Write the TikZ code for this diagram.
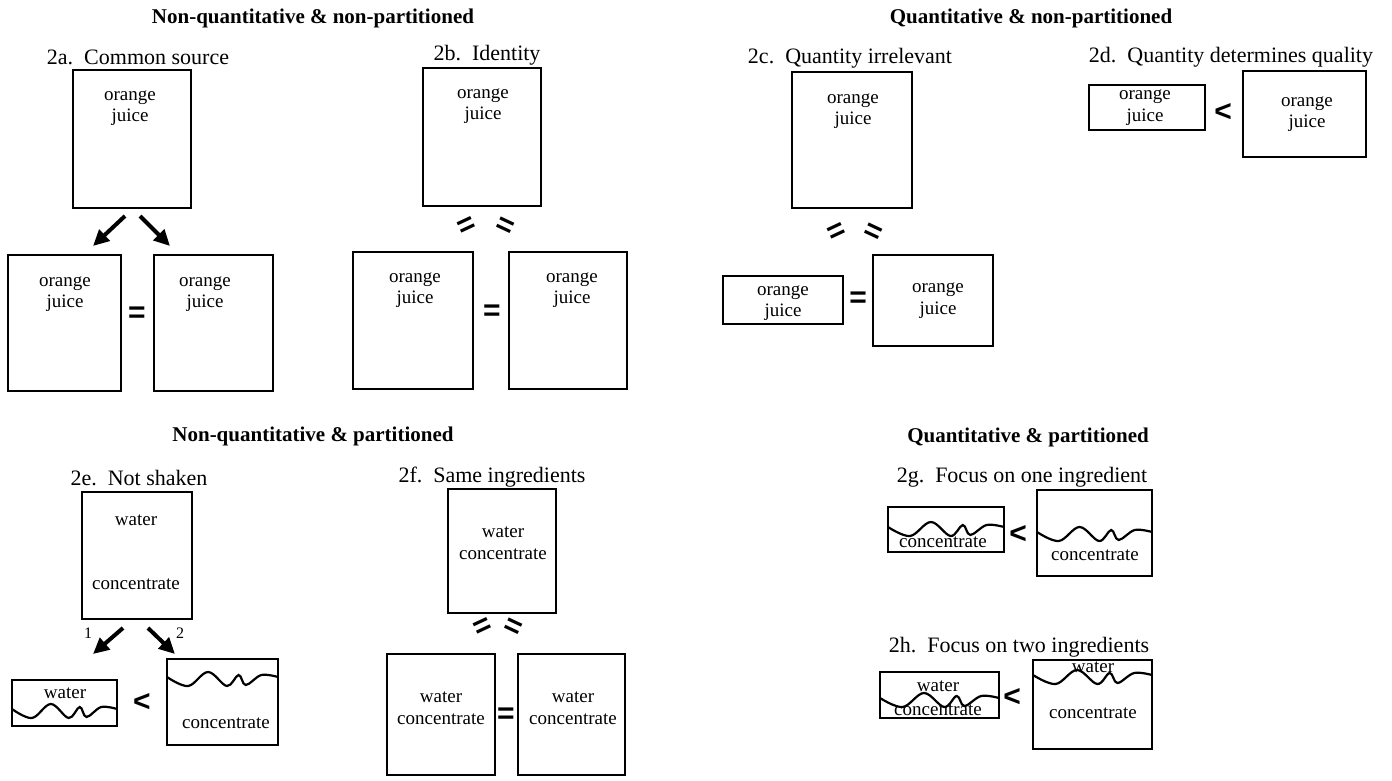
\documentclass[tikz,border=0pt]{standalone}
\usepackage{fontspec}
\setmainfont{Liberation Serif}
\setsansfont{Liberation Sans}
\usetikzlibrary{arrows.meta}

\tikzset{
  glass/.style 2 args={draw, line width=1pt, inner sep=0pt, minimum width=#1*0.5pt, minimum height=#2*0.5pt},
  liquid/.style={align=center, inner sep=0pt, font=\fontsize{9.5}{10.8}\selectfont},
  heading/.style={font=\bfseries\fontsize{10.5}{12}\selectfont},
  caption/.style={font=\fontsize{11}{13}\selectfont},
  relation/.style={inner sep=0pt, font=\sffamily\bfseries\fontsize{15}{15}\selectfont},
  pour/.style={line width=2pt, -{Triangle[length=8pt,width=7.5pt]}},
  waveline/.style={line width=1.1pt},
  num/.style={inner sep=0pt, font=\fontsize{8}{9}\selectfont}
}
% boundary between the two layers: left x, y at the left wall, width
\newcommand{\wavyline}[3]{\draw[waveline, shift={(#1,#2)}, xscale=#3] plot[smooth, tension=.6]
  coordinates {(0,0) (0.19,9) (0.37,-5) (0.54,9) (0.645,-2) (0.71,8) (0.85,-2) (1,0)};}

\begin{document}
\begin{tikzpicture}[x=0.5pt, y=-0.5pt]
    \useasboundingbox (0,0) rectangle (1392,781);
    \node[heading] (top1) at (313,18) {Non-quantitative \& non-partitioned};
    \node[heading] (top2) at (1031,18) {Quantitative \& non-partitioned};
    \node[heading] (top3) at (313,436) {Non-quantitative \& partitioned};
    \node[heading] (top4) at (1028,437) {Quantitative \& partitioned};

    % 2a
    \node[caption] (capa) at (138,57) {2a.\enspace Common source};
    \node[glass={118}{138}] (a0) at (132,139) {};
    \node[liquid] (a0t) at (130,108) {orange\\juice};
    \node[glass={113}{136}] (a1) at (64.5,323) {};
    \node[liquid] (a1t) at (65,294) {orange\\juice};
    \node[glass={119}{136}] (a2) at (213.5,323) {};
    \node[liquid] (a2t) at (205,294) {orange\\juice};
    \node[relation] (aeq) at (137,315) {=};
    \draw[pour] ([shift={(-7,7)}]a0.south) -- ([shift={(28.5,-8)}]a1.north);
    \draw[pour] ([shift={(8,7)}]a0.south) -- ([shift={(-43.5,-8)}]a2.north);

    % 2b
    \node[caption] (capb) at (487,55) {2b.\enspace Identity};
    \node[glass={118}{138}] (b0) at (482,137) {};
    \node[liquid] (b0t) at (483,106) {orange\\juice};
    \node[glass={120}{137}] (b1) at (413,320.5) {};
    \node[liquid] (b1t) at (415,290) {orange\\juice};
    \node[glass={118}{137}] (b2) at (568,320.5) {};
    \node[liquid] (b2t) at (572,290) {orange\\juice};
    \node[relation] (beq) at (492,313) {=};
    \node[relation, rotate=25] (beql) at (467,227) {=};
    \node[relation, rotate=-25] (beqr) at (505,227) {=};

    % 2c
    \node[caption] (capc) at (850,58) {2c.\enspace Quantity irrelevant};
    \node[glass={120}{136}] (c0) at (852,140) {};
    \node[liquid] (c0t) at (853,111) {orange\\juice};
    \node[glass={120}{48}] (c1) at (783,300) {};
    \node[liquid] (c1t) at (783,303) {orange\\juice};
    \node[glass={120}{91}] (c2) at (933,300.5) {};
    \node[liquid] (c2t) at (938,300.5) {orange\\juice};
    \node[relation] (ceq) at (858,300) {=};
    \node[relation, rotate=25] (ceql) at (837,233) {=};
    \node[relation, rotate=-25] (ceqr) at (873,233) {=};

    % 2d
    \node[caption] (capd) at (1231,57) {2d.\enspace Quantity determines quality};
    \node[glass={116}{45}] (d1) at (1147,107.5) {};
    \node[liquid] (d1t) at (1145,107.5) {orange\\juice};
    \node[relation] (dlt) at (1223,112) {<};
    \node[glass={123}{86}] (d2) at (1304.5,114) {};
    \node[liquid] (d2t) at (1307,114) {orange\\juice};

    % 2e
    \node[caption] (cape) at (139,478) {2e.\enspace Not shaken};
    \node[glass={110}{127}] (e0) at (137,555.5) {};
    \node[liquid] (e0w) at (136,520) {water};
    \node[liquid] (e0c) at (136,584) {concentrate};
    \node[glass={105}{46}] (e1) at (64.5,703) {};
    \node[liquid] (e1w) at (65,693) {water};
    \wavyline{12}{709}{105}
    \node[relation] (elt) at (142,702) {<};
    \node[glass={111}{86}] (e2) at (222.5,702) {};
    \wavyline{167}{677}{111}
    \node[liquid] (e2c) at (226,723) {concentrate};
    \draw[pour] ([shift={(-14,8)}]e0.south) -- ([shift={(28.5,-25)}]e1.north);
    \draw[pour] ([shift={(11,8)}]e0.south) -- ([shift={(-47.5,-4)}]e2.north);
    \node[num] (one) at (88,633) {1};
    \node[num] (two) at (180,633) {2};

    % 2f
    \node[caption] (capf) at (492,477) {2f.\enspace Same ingredients};
    \node[glass={108}{124}] (f0) at (502,551) {};
    \node[liquid] (f0t) at (503,543) {water\\concentrate};
    \node[glass={108}{121}] (f1) at (441,714.5) {};
    \node[liquid] (f1t) at (441,708.5) {water\\concentrate};
    \node[glass={107}{121}] (f2) at (571.5,714.5) {};
    \node[liquid] (f2t) at (573,708.5) {water\\concentrate};
    \node[relation] (feq) at (506,716) {=};
    \node[relation, rotate=25] (feql) at (483,628) {=};
    \node[relation, rotate=-25] (feqr) at (513,628) {=};

    % 2g
    \node[caption] (capg) at (1022,477) {2g.\enspace Focus on one ingredient};
    \node[glass={116}{45}] (g1) at (946,529.5) {};
    \wavyline{888}{527}{116}
    \node[liquid] (g1c) at (943,542) {concentrate};
    \node[relation] (glt) at (1018,534) {<};
    \node[glass={115}{86}] (g2) at (1094.5,533) {};
    \wavyline{1037}{532}{115}
    \node[liquid] (g2c) at (1095,555) {concentrate};

    % 2h
    \node[caption] (caph) at (1019,647) {2h.\enspace Focus on two ingredients};
    \node[glass={119}{46}] (h1) at (939.5,695) {};
    \node[liquid] (h1w) at (938,686) {water};
    \wavyline{880}{698}{119}
    \node[liquid] (h1c) at (938,710) {concentrate};
    \node[relation] (hlt) at (1012,697) {<};
    \node[glass={119}{89}] (h2) at (1092.5,704.5) {};
    \node[liquid] (h2w) at (1093,667) {water};
    \wavyline{1033}{675}{119}
    \node[liquid] (h2c) at (1093,713) {concentrate};
\end{tikzpicture}
\end{document}
